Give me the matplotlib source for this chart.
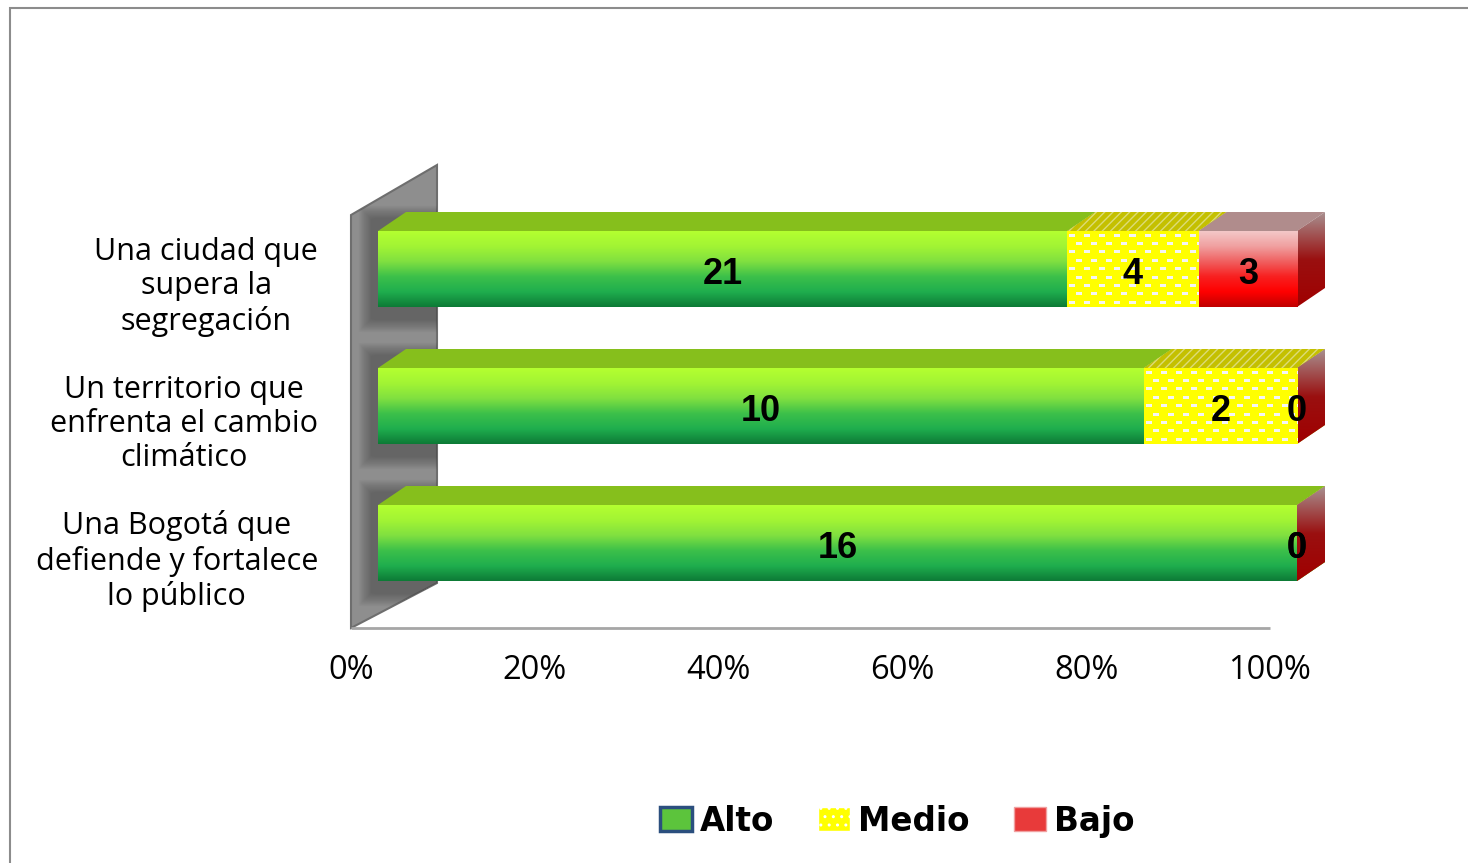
import numpy as np
import matplotlib.pyplot as plt
from matplotlib.colors import LinearSegmentedColormap
from matplotlib.patches import Polygon, Rectangle, FancyBboxPatch, Patch

# ---- data ----
categories = ["Una Bogotá que\ndefiende y fortalece\nlo público",
              "Un territorio que\nenfrenta el cambio\nclimático",
              "Una ciudad que\nsupera la\nsegregación"]
alto = [16, 10, 21]
medio = [0, 2, 4]
bajo = [0, 0, 3]
series_names = ["Alto", "Medio", "Bajo"]
tick_values = [0, 0.2, 0.4, 0.6, 0.8, 1.0]
tick_labels = ["0%", "20%", "40%", "60%", "80%", "100%"]

counts = np.array([alto, medio, bajo], dtype=float)
shares = counts / counts.sum(axis=0)

# ---- layout (pixels of the 1468x863 canvas) ----
W, H = 1468, 863
PX, PY = 919.0, 137.0          # pixels per data unit (x share, y row)
X0, Y0 = 378.0, 543.0          # pixel of data (0, 0)
XL, YL = (-0.1, 1.1), (-0.75, 2.85)
DX, DY = 28 / PX, 19 / PY      # 3d depth of the bars
BAR_H = 76 / PY


def px(x, y):
    return (x - X0) / PX, (Y0 - y) / PY


fig = plt.figure(figsize=(W / 100, H / 100), dpi=100)
left = X0 + XL[0] * PX
top = Y0 - YL[1] * PY
bottom = Y0 - YL[0] * PY
ax = fig.add_axes([left / W, 1 - bottom / H, (XL[1] - XL[0]) * PX / W, (bottom - top) / H])
ax.set_axis_off()

# chart frame
fig.add_artist(Rectangle((10 / W, -0.05), 1.1, 1.05 - 8 / H, transform=fig.transFigure,
                         fill=False, edgecolor='#8c8c8c', lw=1.5))


def gradient(patch, colors, extent, z):
    cmap = LinearSegmentedColormap.from_list('g', colors)
    grad = np.linspace(0, 1, 256).reshape(-1, 1)
    im = ax.imshow(grad, cmap=cmap, extent=extent, aspect='auto', origin='upper',
                   interpolation='bicubic', zorder=z)
    im.set_clip_path(patch)
    im.set_clip_box(None)


def brick(patch, extent, z):
    w = max(int(round((extent[1] - extent[0]) * PX)), 1)
    h = max(int(round((extent[3] - extent[2]) * PY)), 1)
    img = np.ones((h, w, 3))
    img[:, :, 2] = 0.0
    for r, yy in enumerate(np.arange(3, h, 8.4)):
        shift = 0 if r % 2 == 0 else 7.5
        for xx in np.arange(2 + shift, w, 15):
            img[int(yy):int(yy) + 3, int(xx):int(xx) + 6, :] = 0.96
    im = ax.imshow(img, extent=extent, aspect='auto', origin='upper',
                   interpolation='nearest', zorder=z)
    im.set_clip_path(patch)


# back wall and floor
wx0, fy = px(351, 628)
_, wy_top = px(351, 215)
wx1, wy_top2 = px(437, 165)
_, wy_bot2 = px(437, 583)
wall = Polygon([(wx0, fy), (wx0, wy_top), (wx1, wy_top2), (wx1, wy_bot2)],
               closed=True, facecolor='#8e8e8e', edgecolor='#6e6e6e', lw=1.5, zorder=1)
ax.add_patch(wall)
ax.plot([wx0, wx0 + 1], [fy, fy], color='#a6a6a6', lw=2, zorder=1, solid_capstyle='butt')

# soft shadows of the bars on the wall
for yc in range(3):
    for k in range(12):
        g = (12 - k) * 1.1
        sx, _ = px(372 - g, 0)
        sh = FancyBboxPatch((sx, yc - BAR_H / 2 - 12 / PY - g / PY),
                            (70 + 2 * g) / PX, BAR_H + (24 + 2 * g) / PY,
                            boxstyle='round,pad=0,rounding_size=0.008',
                            facecolor='#404040', alpha=0.05, lw=0, zorder=1.5)
        ax.add_patch(sh)
        sh.set_clip_path(wall)

front_cols = [['#b4ff30', '#a2f434', '#80e040', '#3cc04a', '#1fae4e', '#0d7a36'],
              ['#ffff00', '#ffff00'],
              ['#f4c8c8', '#f0a0a0', '#f06060', '#f82020', '#ff0000', '#c00000']]
top_cols = ['#86bf1c', '#c4c000', '#b08c8c']
side_cols = [['#7cc020', '#1f8a3a'], ['#c8c400', '#a0a000'], ['#a89090', '#9a1010', '#a00000']]

y = np.arange(len(categories))
lefts = np.zeros(len(categories))
for s, name in enumerate(series_names):
    bars = ax.barh(y, shares[s], left=lefts, height=BAR_H, facecolor='none',
                   edgecolor='none', zorder=4, clip_on=False)
    for i, rect in enumerate(bars.patches):
        x0 = rect.get_x()
        x1 = x0 + rect.get_width()
        yb, yt = rect.get_y(), rect.get_y() + rect.get_height()
        # top face
        if x1 > x0:
            tp = Polygon([(x0, yt), (x1, yt), (x1 + DX, yt + DY), (x0 + DX, yt + DY)],
                         closed=True, facecolor=top_cols[s], lw=0, zorder=3,
                         hatch='////' if s == 1 else None,
                         edgecolor='#dcdc78' if s == 1 else 'none')
            ax.add_patch(tp)
        # side face
        sp = Polygon([(x1, yb), (x1, yt), (x1 + DX, yt + DY), (x1 + DX, yb + DY)],
                     closed=True, facecolor='none', edgecolor='none', zorder=3)
        ax.add_patch(sp)
        gradient(sp, side_cols[s], (x1, x1 + DX, yb, yt + DY), 3)
        # front face
        if x1 > x0:
            if s == 1:
                brick(rect, (x0, x1, yb, yt), 4)
            else:
                gradient(rect, front_cols[s], (x0, x1, yb, yt), 4)
    txts = ax.bar_label(bars, labels=[str(int(v)) for v in counts[s]], label_type='center',
                        fontsize=26, fontweight='bold', family='Liberation Sans', zorder=6)
    for t in txts:
        t.set_position((0, -3.6))
    lefts = lefts + shares[s]

# category labels
lx, _ = px(318, 0)
for i, cat in enumerate(categories):
    ax.text(lx, y[i] - 18 / PY, cat, ha='right', va='center', multialignment='center',
            fontsize=22, family='Open Sans', linespacing=1.19, zorder=6)

# x tick labels on the floor
_, ty = px(0, 670)
for v, lab in zip(tick_values, tick_labels):
    ax.text(v + wx0, ty, lab, ha='center', va='center', fontsize=23.5, family='Open Sans')

ax.set_xlim(*XL)
ax.set_ylim(*YL)

handles = [Patch(facecolor='#5cc43c', edgecolor='#2b4f7e', lw=2.5),
           Patch(facecolor='#ffff00', edgecolor='#ffffff', hatch='..', lw=1),
           Patch(facecolor='#e83a3a', edgecolor='#f0a0a0', lw=1)]
fig.legend(handles, series_names, loc='center', bbox_to_anchor=(897 / W, 1 - 821 / H),
           ncol=3, frameon=False, handlelength=0.98, handleheight=0.74, handletextpad=0.25,
           columnspacing=1.35, prop={'family': 'DejaVu Sans', 'weight': 'bold', 'size': 23.5})

fig.savefig('out.png', dpi=100)
